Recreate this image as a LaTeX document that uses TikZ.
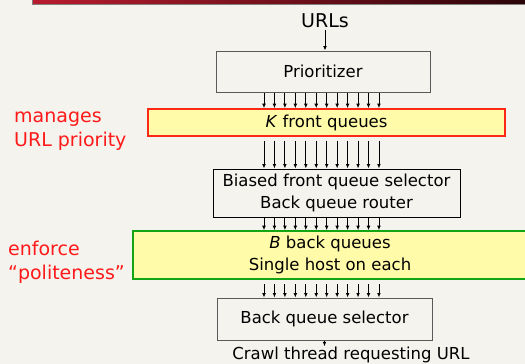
\documentclass[tikz,border=0pt]{standalone}
\usepackage{fontspec}
\setmainfont{DejaVu Sans}
\usetikzlibrary{arrows,arrows.meta,calc}
\definecolor{slidebg}{RGB}{244,243,237}
\definecolor{qyellow}{RGB}{255,251,168}
\definecolor{qred}{RGB}{250,40,20}
\definecolor{qgreen}{RGB}{20,165,20}
\definecolor{notered}{RGB}{255,25,25}
\definecolor{barred}{RGB}{185,28,46}
\definecolor{bardark}{RGB}{42,4,9}

\begin{document}
\begin{tikzpicture}[x=1pt,y=-1pt,
	txt/.style={font=\fontsize{16.5}{22}\selectfont, align=center},
	box/.style={txt, draw=gray!70!black, line width=1pt, inner sep=0pt},
	queue/.style={txt, fill=qyellow, line width=1.6pt, inner sep=0pt},
	note/.style={font=\fontsize{19}{24}\selectfont, text=notered, align=left, inner sep=0pt},
	arr/.style={-{Latex[length=4.5pt,width=3.8pt]}, line width=0.9pt}]
	\useasboundingbox[fill=slidebg] (0,0) rectangle (525,364);
	% title bar
	\shade[left color=barred, right color=bardark, draw=gray] (32,-2) rectangle (527,4);
	% boxes
	\node (urls) at (325,21)[txt, font=\fontsize{19}{24}\selectfont, inner sep=2pt] {URLs};
	\node (prio) at (323,71.5)[box, minimum width=214pt, minimum height=41pt] {Prioritizer};
	\node (front) at (326.5,122.5)[queue, draw=qred, minimum width=357pt, minimum height=27pt] {\textit{K} front queues};
	\node (biased) at (336.5,193)[box, draw=black, minimum width=247pt, minimum height=48pt] {Biased front queue selector\\Back queue router};
	\node (back) at (330,255)[queue, draw=qgreen, minimum width=394pt, minimum height=48pt] {\textit{B} back queues\\Single host on each};
	\node (sel) at (324.5,319)[box, minimum width=215pt, minimum height=42pt] {Back queue selector};
	\node (crawl) at (351,354.5)[txt, inner sep=0pt] {Crawl thread requesting URL};
	% side notes
	\node (prionote) at (14,131)[note, anchor=west] {manages\\URL priority};
	\node (politenote) at (8,262)[note, anchor=west] {enforce\\“politeness”};
	% arrows
	\draw[arr] (urls.south) -- (urls.south |- prio.north);
	\foreach \i in {0,...,11}{
		\coordinate (q) at (264+\i*10.45,0);
		\draw[arr] (q |- prio.south) -- (q |- front.north);
		\draw[arr, shorten <=4pt] (q |- front.south) -- (q |- biased.north);
		\draw[arr] (q |- biased.south) -- (q |- back.north);
		\draw[arr, shorten <=4pt] (q |- back.south) -- (q |- sel.north);
	}
	\draw[arr] (sel.south) -- (sel.south |- crawl.north);
\end{tikzpicture}
\end{document}
